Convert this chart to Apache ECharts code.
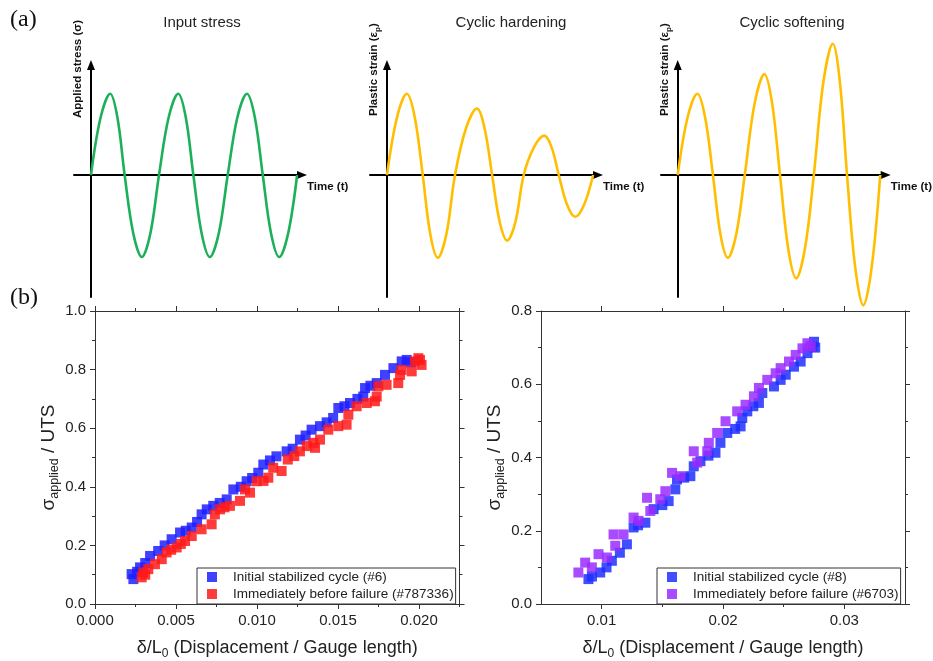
<!DOCTYPE html>
<html>
<head>
<meta charset="utf-8">
<script src="https://cdn.jsdelivr.net/npm/echarts@6/dist/echarts.min.js"></script>
<style>
html,body{margin:0;padding:0;background:#fff;}
#chart{width:933px;height:661px;}
</style>
</head>
<body>
<div id="chart"></div>
<script>
// ---------- (a) schematic curves (t in cycles, amplitude in units of the input amplitude) ----------
const inputT = [0, 0.14, 0.28, 0.385, 0.49, 0.615, 0.74, 0.865, 0.99, 1.13, 1.27, 1.38, 1.49, 1.61, 1.73, 1.86, 1.99, 2.13, 2.27, 2.385, 2.50, 2.62, 2.74, 2.87, 3.00];
const inputS = [0, 0.70, 0.99, 0.70, 0, -0.71, -1.00, -0.71, 0, 0.70, 0.99, 0.70, 0, -0.71, -1.00, -0.71, 0, 0.70, 0.99, 0.70, 0, -0.71, -1.00, -0.71, 0];
const hardT  = [0, 0.145, 0.29, 0.405, 0.52, 0.63, 0.74, 0.865, 0.99, 1.15, 1.31, 1.42, 1.53, 1.64, 1.75, 1.87, 1.99, 2.14, 2.29, 2.395, 2.50, 2.62, 2.74, 2.87, 3.00];
const hardS  = [0, 0.70, 0.99, 0.70, 0, -0.72, -1.01, -0.72, 0, 0.57, 0.81, 0.57, 0, -0.57, -0.80, -0.57, 0, 0.34, 0.48, 0.34, 0, -0.36, -0.51, -0.36, 0];
const softT  = [0, 0.145, 0.29, 0.405, 0.52, 0.63, 0.74, 0.865, 0.99, 1.135, 1.28, 1.395, 1.51, 1.63, 1.75, 1.88, 2.01, 2.15, 2.29, 2.395, 2.50, 2.62, 2.74, 2.865, 2.99];
const softS  = [0, 0.70, 0.99, 0.70, 0, -0.72, -1.01, -0.72, 0, 0.87, 1.23, 0.87, 0, -0.89, -1.26, -0.89, 0, 1.13, 1.60, 1.13, 0, -1.12, -1.59, -1.12, 0];
const panelTitles = ['Input stress', 'Cyclic hardening', 'Cyclic softening'];

// ---------- (b) left: initial (#6) vs before failure (#787336) ----------
const leftInitX = [0.00226,0.00237,0.00260,0.00278,0.00310,0.00340,0.00390,0.00430,0.00473,0.00525,0.00560,0.00597,0.00630,0.00658,0.00690,0.00730,0.00770,0.00813,0.00854,0.00900,0.00936,0.00970,0.01008,0.01039,0.01080,0.01120,0.01183,0.01220,0.01265,0.01300,0.01337,0.01389,0.01430,0.01470,0.01502,0.01540,0.01574,0.01620,0.01656,0.01667,0.01700,0.01739,0.01790,0.01842,0.01893,0.01924,0.01950];
const leftInitY = [0.102,0.085,0.110,0.125,0.140,0.164,0.181,0.200,0.221,0.244,0.250,0.261,0.280,0.306,0.323,0.335,0.345,0.357,0.391,0.400,0.419,0.430,0.448,0.476,0.490,0.504,0.521,0.530,0.561,0.575,0.595,0.607,0.620,0.635,0.669,0.675,0.686,0.700,0.708,0.737,0.745,0.754,0.782,0.805,0.828,0.833,0.825];
const leftFailX = [0.00288,0.00298,0.00310,0.00329,0.00370,0.00412,0.00442,0.00470,0.00504,0.00530,0.00556,0.00597,0.00658,0.00720,0.00740,0.00772,0.00800,0.00833,0.00895,0.00926,0.00957,0.00998,0.01040,0.01070,0.01100,0.01152,0.01190,0.01230,0.01265,0.01307,0.01358,0.01348,0.01389,0.01440,0.01502,0.01553,0.01564,0.01615,0.01677,0.01728,0.01739,0.01749,0.01800,0.01872,0.01883,0.01893,0.01955,0.01975,0.01996,0.02006,0.02016];
const leftFailY = [0.091,0.108,0.100,0.119,0.136,0.153,0.176,0.185,0.193,0.205,0.215,0.232,0.255,0.272,0.306,0.323,0.330,0.335,0.352,0.391,0.380,0.419,0.420,0.431,0.465,0.454,0.493,0.505,0.521,0.539,0.533,0.550,0.561,0.595,0.607,0.612,0.646,0.675,0.686,0.692,0.708,0.743,0.748,0.754,0.782,0.799,0.794,0.828,0.839,0.833,0.816];

// ---------- (b) right: initial (#8) vs before failure (#6703) ----------
const rightInitX = [0.00891,0.00920,0.00988,0.01040,0.01084,0.01150,0.01208,0.01263,0.01300,0.01360,0.01428,0.01500,0.01552,0.01607,0.01621,0.01680,0.01731,0.01759,0.01814,0.01880,0.01938,0.01979,0.02035,0.02100,0.02145,0.02159,0.02200,0.02250,0.02296,0.02324,0.02420,0.02475,0.02517,0.02585,0.02640,0.02696,0.02737,0.02750,0.02760];
const rightInitY = [0.068,0.075,0.086,0.100,0.118,0.140,0.163,0.209,0.215,0.222,0.259,0.270,0.281,0.313,0.340,0.345,0.349,0.376,0.390,0.405,0.413,0.440,0.467,0.478,0.485,0.508,0.526,0.540,0.549,0.576,0.594,0.612,0.626,0.648,0.662,0.685,0.703,0.716,0.700];
const rightFailX = [0.00808,0.00864,0.00919,0.00974,0.01043,0.01098,0.01112,0.01180,0.01263,0.01304,0.01374,0.01401,0.01483,0.01525,0.01580,0.01649,0.01759,0.01787,0.01870,0.01883,0.01952,0.02021,0.02117,0.02186,0.02255,0.02296,0.02365,0.02434,0.02475,0.02544,0.02599,0.02655,0.02696,0.02723];
const rightFailY = [0.086,0.113,0.100,0.136,0.127,0.190,0.159,0.190,0.236,0.227,0.290,0.254,0.286,0.308,0.358,0.349,0.417,0.386,0.417,0.440,0.467,0.499,0.526,0.544,0.567,0.590,0.612,0.630,0.644,0.662,0.680,0.698,0.712,0.703];

const seriesNames = ['Initial stabilized cycle (#6)', 'Immediately before failure (#787336)',
                     'Initial stabilized cycle (#8)', 'Immediately before failure (#6703)'];

// ---------- axis ticks / labels ----------
const leftXTicks  = [0, 0.005, 0.010, 0.015, 0.020];
const leftXLabels = ['0.000', '0.005', '0.010', '0.015', '0.020'];
const leftXMinor  = [0.0025, 0.0075, 0.0125, 0.0175, 0.0225];
const leftYTicks  = [0, 0.2, 0.4, 0.6, 0.8, 1.0];
const leftYLabels = ['0.0', '0.2', '0.4', '0.6', '0.8', '1.0'];
const leftYMinor  = [0.1, 0.3, 0.5, 0.7, 0.9];
const rightXTicks  = [0.01, 0.02, 0.03];
const rightXLabels = ['0.01', '0.02', '0.03'];
const rightXMinor  = [0.015, 0.025];
const rightYTicks  = [0, 0.2, 0.4, 0.6, 0.8];
const rightYLabels = ['0.0', '0.2', '0.4', '0.6', '0.8'];
const rightYMinor  = [0.1, 0.3, 0.5, 0.7];

// ---------- helpers ----------
const FONT = 'Liberation Sans, Arial, sans-serif';
const AX = '#333';
const zip = (a, b) => a.map((v, i) => [v, b[i]]);

function schematicX(gi, name) {
  return {
    type: 'value', gridIndex: gi, min: -0.247, max: 3.071,
    axisLine: {show: true, onZero: true, symbol: ['none', 'triangle'], symbolSize: [8, 10],
               lineStyle: {color: '#000', width: 2}},
    axisTick: {show: false}, axisLabel: {show: false}, splitLine: {show: false},
    name: name, nameLocation: 'end', nameGap: 0,
    nameTextStyle: {fontFamily: FONT, fontWeight: 'bold', fontSize: 11.5, color: '#111',
                    align: 'left', verticalAlign: 'top', padding: [6, 0, 0, 5]}
  };
}
function schematicY(gi) {
  return {
    type: 'value', gridIndex: gi, min: -1.488, max: 1.341,
    axisLine: {show: true, onZero: true, symbol: ['none', 'triangle'], symbolSize: [8, 10],
               lineStyle: {color: '#000', width: 2}},
    axisTick: {show: false}, axisLabel: {show: false}, splitLine: {show: false}
  };
}
function boxAxis(gi, pos, min, max, ticks, len, labels, showLine, extra) {
  const ax = {
    type: 'value', gridIndex: gi, position: pos, min: min, max: max,
    axisLine: {show: showLine, onZero: false, lineStyle: {color: AX, width: 1}},
    axisTick: {show: true, inside: false, length: len, customValues: ticks, lineStyle: {color: AX, width: 1}},
    axisLabel: labels ? {show: true, customValues: ticks, color: '#222', fontSize: 15, fontFamily: FONT, margin: 9,
                         formatter: v => { const i = ticks.findIndex(t => Math.abs(t - v) < 1e-9); return i >= 0 ? labels[i] : ''; }}
                      : {show: false},
    splitLine: {show: false}
  };
  return Object.assign(ax, extra || {});
}

const xName = '{a|δ/L}{s|0}{a| (Displacement / Gauge length)}';
const yName = '{a|σ}{s|applied}{a| / UTS}';
const xNameStyle = {fontFamily: FONT, color: '#222',
  rich: {a: {fontSize: 18, fontFamily: FONT, color: '#222', lineHeight: 24},
         s: {fontSize: 12, fontFamily: FONT, color: '#222', verticalAlign: 'bottom', lineHeight: 14}}};
const yNameStyle = {fontFamily: FONT, color: '#222',
  rich: {a: {fontSize: 19, fontFamily: FONT, color: '#222', lineHeight: 24},
         s: {fontSize: 12.5, fontFamily: FONT, color: '#222', verticalAlign: 'bottom', lineHeight: 14}}};

const xAxes = [
  schematicX(0, 'Time (t)'), schematicX(1, 'Time (t)'), schematicX(2, 'Time (t)'),
  // left box
  boxAxis(3, 'bottom', 0, 0.0225, leftXTicks, 5, leftXLabels, true,
          {name: xName, nameLocation: 'middle', nameGap: 32, nameTextStyle: xNameStyle}),
  boxAxis(3, 'bottom', 0, 0.0225, leftXMinor, 3, null, false),
  boxAxis(3, 'top', 0, 0.0225, leftXTicks, 5, null, true),
  boxAxis(3, 'top', 0, 0.0225, leftXMinor, 3, null, false),
  // right box
  boxAxis(4, 'bottom', 0.005, 0.035, rightXTicks, 5, rightXLabels, true,
          {name: xName, nameLocation: 'middle', nameGap: 32, nameTextStyle: xNameStyle}),
  boxAxis(4, 'bottom', 0.005, 0.035, rightXMinor, 3, null, false),
  boxAxis(4, 'top', 0.005, 0.035, rightXTicks, 5, null, true),
  boxAxis(4, 'top', 0.005, 0.035, rightXMinor, 3, null, false)
];
const yAxes = [
  schematicY(0), schematicY(1), schematicY(2),
  boxAxis(3, 'left', 0, 1.0, leftYTicks, 5, leftYLabels, true,
          {name: yName, nameLocation: 'middle', nameGap: 31, nameRotate: 90, nameTextStyle: yNameStyle}),
  boxAxis(3, 'left', 0, 1.0, leftYMinor, 3, null, false),
  boxAxis(3, 'right', 0, 1.0, leftYTicks, 5, null, true),
  boxAxis(3, 'right', 0, 1.0, leftYMinor, 3, null, false),
  boxAxis(4, 'left', 0, 0.8, rightYTicks, 5, rightYLabels, true,
          {name: yName, nameLocation: 'middle', nameGap: 33, nameRotate: 90, nameTextStyle: yNameStyle}),
  boxAxis(4, 'left', 0, 0.8, rightYMinor, 3, null, false),
  boxAxis(4, 'right', 0, 0.8, rightYTicks, 5, null, true),
  boxAxis(4, 'right', 0, 0.8, rightYMinor, 3, null, false)
];

function curve(gi, t, s, color) {
  return {type: 'line', xAxisIndex: gi, yAxisIndex: gi, data: zip(t, s), smooth: 0.35,
          showSymbol: false, symbol: 'none', clip: false, silent: true,
          lineStyle: {color: color, width: 2.6}, z: 5};
}
function scatter(name, xi, yi, xs, ys, color) {
  return {type: 'scatter', name: name, xAxisIndex: xi, yAxisIndex: yi, data: zip(xs, ys),
          symbol: 'rect', symbolSize: 10, itemStyle: {color: color, opacity: 0.85}, silent: true};
}

const legendCommon = {
  orient: 'vertical', icon: 'rect', itemWidth: 10, itemHeight: 10, itemGap: 3,
  padding: [2, 2, 3, 10], borderColor: '#333', borderWidth: 1, backgroundColor: '#fff',
  selectedMode: false,
  textStyle: {fontFamily: FONT, fontSize: 13.5, color: '#222', padding: [0, 0, 0, 11], lineHeight: 14}
};

function rotLabel(x, y, rich, text) {
  return {type: 'text', x: x, y: y, rotation: Math.PI / 2,
          style: {text: text, fontFamily: FONT, fontWeight: 'bold', fontSize: 11.5, fill: '#111',
                  align: 'left', verticalAlign: 'middle', rich: rich}};
}
const richY = {b: {fontFamily: FONT, fontWeight: 'bold', fontSize: 11.5, color: '#111'},
               sub: {fontFamily: FONT, fontWeight: 'bold', fontSize: 8, color: '#111', verticalAlign: 'bottom', padding: [0, 0, -2, 0]}};

const titleStyle = {fontFamily: FONT, fontWeight: 'normal', fontSize: 15, color: '#222'};
const option = {
  animation: false,
  backgroundColor: '#fff',
  title: [
    {text: panelTitles[0], left: 197, top: 10, textAlign: 'center', textStyle: titleStyle},
    {text: panelTitles[1], left: 506, top: 10, textAlign: 'center', textStyle: titleStyle},
    {text: panelTitles[2], left: 787, top: 10, textAlign: 'center', textStyle: titleStyle}
  ],
  grid: [
    {left: 74, top: 65, width: 228, height: 232},
    {left: 370, top: 65, width: 228, height: 232},
    {left: 661, top: 65, width: 228, height: 232},
    {left: 95, top: 311, width: 364.5, height: 294},
    {left: 541, top: 311, width: 364, height: 294}
  ],
  xAxis: xAxes,
  yAxis: yAxes,
  legend: [
    Object.assign({}, legendCommon, {left: 197, top: 568, data: [seriesNames[0], seriesNames[1]]}),
    Object.assign({}, legendCommon, {left: 657, top: 568, data: [seriesNames[2], seriesNames[3]]})
  ],
  graphic: [
    {type: 'text', x: 10, y: 20, style: {text: '(a)', fontFamily: 'Liberation Serif, Times New Roman, serif', fontSize: 24, fill: '#111', verticalAlign: 'middle'}},
    {type: 'text', x: 10, y: 298, style: {text: '(b)', fontFamily: 'Liberation Serif, Times New Roman, serif', fontSize: 24, fill: '#111', verticalAlign: 'middle'}},
    rotLabel(78, 118, richY, '{b|Applied stress (σ)}'),
    rotLabel(374, 116, richY, '{b|Plastic strain (ε}{sub|p}{b|)}'),
    rotLabel(665, 116, richY, '{b|Plastic strain (ε}{sub|p}{b|)}')
  ],
  series: [
    curve(0, inputT, inputS, '#1db05a'),
    curve(1, hardT, hardS, '#ffbf00'),
    curve(2, softT, softS, '#ffbf00'),
    scatter(seriesNames[0], 3, 3, leftInitX, leftInitY, '#1f1fff'),
    scatter(seriesNames[1], 3, 3, leftFailX, leftFailY, '#ff1a1a'),
    scatter(seriesNames[2], 7, 7, rightInitX, rightInitY, '#1f2fff'),
    scatter(seriesNames[3], 7, 7, rightFailX, rightFailY, '#9a2cff')
  ]
};

const chart = echarts.init(document.getElementById('chart'), null, {renderer: 'canvas'});
chart.setOption(option);
</script>
</body>
</html>
